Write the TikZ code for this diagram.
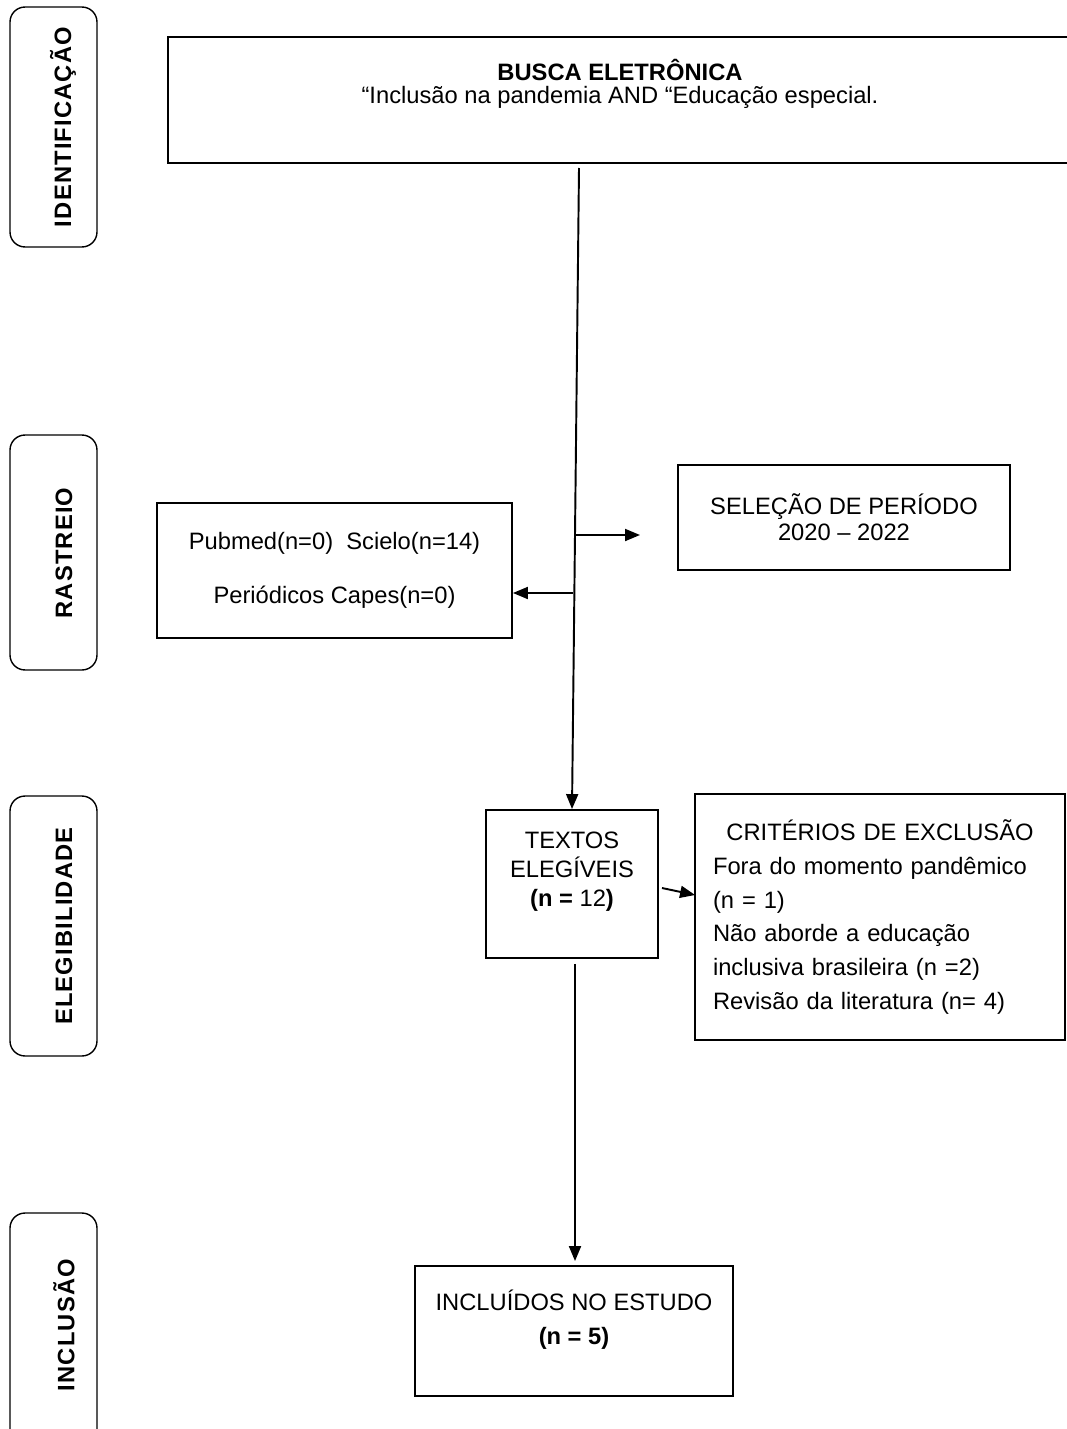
\documentclass[tikz,border=0pt]{standalone}
\usepackage{fontspec}
\setmainfont{Liberation Sans}
\newfontfamily\lanefont[LetterSpace=5]{Liberation Sans}
\usetikzlibrary{arrows.meta, calc}

\begin{document}
\begin{tikzpicture}[
    x=0.02cm, y=-0.02cm,
    box/.style={rectangle, draw=black, line width=1.1pt, inner sep=2pt, align=center, font=\fontsize{13.5}{16.5}\selectfont},
    lanebox/.style={rectangle, rounded corners=0.3cm, draw=black, line width=0.8pt, minimum width=1.74cm},
    lanetext/.style={rotate=90, inner sep=0pt, font=\lanefont\bfseries\fontsize{13.5}{15}\selectfont},
    arrow/.style={-{Triangle[length=3mm, width=2.4mm]}, line width=1.1pt}
]
\useasboundingbox (0,0) rectangle (1067,1429);

% fases
\node (identbox) [lanebox, minimum height=4.8cm] at (53.5,127) {};
\node (ident) [lanetext] at (63,127) {IDENTIFICAÇÃO};
\node (rastbox) [lanebox, minimum height=4.7cm] at (53.5,552.5) {};
\node (rast) [lanetext] at (64,553) {RASTREIO};
\node (elegbox) [lanebox, minimum height=5.2cm] at (53.5,926) {};
\node (eleg) [lanetext] at (64,926) {ELEGIBILIDADE};
\node (inclbox) [lanebox, minimum height=4.64cm] at (53.5,1329) {};
\node (incl) [lanetext] at (64,1325) {INCLUSÃO};

% caixas
\node (busca) [box, minimum width=18.08cm, minimum height=2.52cm, font=\fontsize{13.5}{13}\selectfont] at (620,100)
    {\textbf{BUSCA ELETRÔNICA}\\ “Inclusão na pandemia AND “Educação especial.\\[8pt]\mbox{}};
\node (pubmed) [box, minimum width=7.1cm, minimum height=2.7cm, font=\fontsize{13.5}{31}\selectfont] at (334.5,570.5)
    {Pubmed(n=0)\ \ Scielo(n=14)\\ Periódicos Capes(n=0)};
\node (selecao) [box, minimum width=6.64cm, minimum height=2.1cm, font=\fontsize{13.5}{14.7}\selectfont] at (844,517.5)
    {SELEÇÃO DE PERÍODO\\ 2020 -- 2022};
\node (textos) [box, minimum width=3.44cm, minimum height=2.96cm] at (572,884)
    {TEXTOS\\ ELEGÍVEIS\\ \textbf{(n =} 12\textbf{)}\\ \mbox{}};
\node (criterios) [box, minimum width=7.4cm, minimum height=4.92cm, inner xsep=0.36cm, text width=6.68cm, align=left, font=\fontsize{13.5}{19.3}\selectfont] at (880,917)
    {\makebox[\linewidth][c]{CRITÉRIOS DE EXCLUSÃO}\\
     Fora do momento pandêmico\\
     (n = 1)\\
     Não aborde a educação\\
     inclusiva brasileira (n =2)\\
     Revisão da literatura (n= 4)};
\node (incluidos) [box, minimum width=6.36cm, minimum height=2.6cm, font=\fontsize{13.5}{19.3}\selectfont] at (574,1331)
    {INCLUÍDOS NO ESTUDO\\ \textbf{(n = 5)}\\[-4pt]\mbox{}};

% ligacoes
\coordinate (buscaout) at (579,168);
\coordinate (dir1) at (576,535);
\coordinate (dir2) at (640,535);
\coordinate (esq1) at (573,593);

\draw [arrow] (buscaout) -- (textos.north);
\draw [arrow] (dir1) -- (dir2);
\draw [arrow] (esq1) -- (esq1 -| pubmed.east);
\draw [arrow] ($(textos.east)+(3,4)$) -- ($(criterios.west)+(1,-22)$);
\draw [arrow] ($(textos.south)+(3,5)$) -- ($(incluidos.north)+(1,-4)$);

\end{tikzpicture}
\end{document}
